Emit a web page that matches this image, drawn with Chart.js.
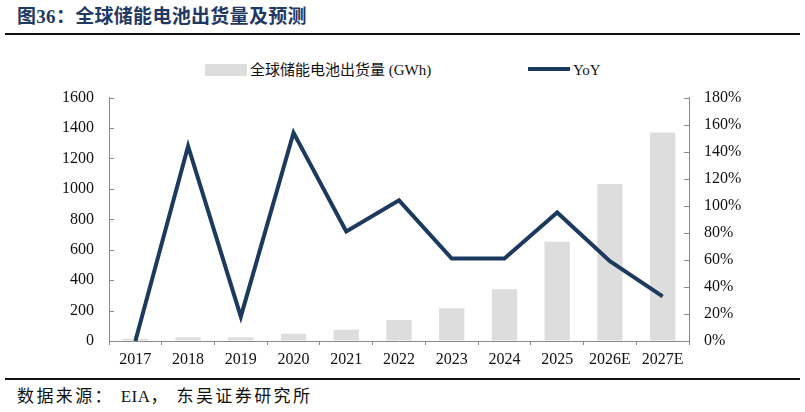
<!DOCTYPE html>
<html>
<head>
<meta charset="utf-8">
<script src="https://cdn.jsdelivr.net/npm/chart.js@4"></script>
<style>
  body { margin: 0; background: #fff; }
  #wrap { position: relative; width: 805px; height: 412px; overflow: hidden; font-family: "Liberation Serif", "Noto Sans CJK SC", serif; }
  #titulo { position: absolute; left: 17px; top: 1px; font-size: 19px; letter-spacing: 0.3px; font-weight: bold; color: #1f3864; white-space: nowrap; }
  .regla { position: absolute; left: 5px; width: 795px; height: 2px; background: #111; }
  #fuente { position: absolute; left: 17px; top: 382px; font-size: 17px; letter-spacing: 2.4px; color: #111; white-space: nowrap; }
  #fuente span { letter-spacing: 0.5px; }
  .ley { position: absolute; top: 60px; font-size: 15px; color: #111; white-space: nowrap; line-height: 20px; }
  #mycanvas { position: absolute; left: 0; top: 73px; }
</style>
</head>
<body>
<div id="wrap">
  <div id="titulo">图36：全球储能电池出货量及预测</div>
  <div class="regla" style="top:33px"></div>
  <div class="ley" style="left:205px"><span style="display:inline-block;width:42px;height:12px;background:#dddddd;vertical-align:-1px;margin-right:3px"></span>全球储能电池出货量 (GWh)</div>
  <div class="ley" style="left:528px"><span style="display:inline-block;width:42px;height:4px;background:#1c3a5e;vertical-align:4px;margin-right:3px"></span>YoY</div>
  <canvas id="mycanvas" width="805" height="305"></canvas>
  <div class="regla" style="top:378px"></div>
  <div id="fuente">数据来源： <span>EIA</span>， 东吴证券研究所</div>
</div>
<script>
// datos
const categorias = ['2017', '2018', '2019', '2020', '2021', '2022', '2023', '2024', '2025', '2026E', '2027E'];
const envios = [15, 24, 25, 47, 74, 138, 215, 340, 653, 1032, 1370];   // GWh
const yoy = [0, 144, 18, 154, 81, 104, 61, 61, 95, 59, 33];             // %
const ticksIzq = [0, 200, 400, 600, 800, 1000, 1200, 1400, 1600];
const ticksDer = [0, 20, 40, 60, 80, 100, 120, 140, 160, 180];

const gris_eje = '#8a8a8a';
const fuenteTick = { family: 'Liberation Serif', size: 16 };

// marcas hacia adentro en los dos ejes y
const marcasInternas = {
  id: 'marcasInternas',
  afterDraw(chart) {
    const ctx = chart.ctx;
    ctx.save();
    ctx.strokeStyle = gris_eje;
    ctx.lineWidth = 1;
    ['y', 'y1'].forEach(function (id) {
      const s = chart.scales[id];
      s.ticks.forEach(function (t) {
        const py = Math.round(s.getPixelForValue(t.value)) + 0.5;
        ctx.beginPath();
        if (id === 'y') { ctx.moveTo(s.right, py); ctx.lineTo(s.right + 5, py); }
        else { ctx.moveTo(s.left - 5, py); ctx.lineTo(s.left, py); }
        ctx.stroke();
      });
    });
    ctx.restore();
  }
};

const data = {
  labels: categorias,
  datasets: [
    {
      type: 'line',
      label: 'YoY',
      data: yoy,
      yAxisID: 'y1',
      borderColor: '#1c3a5e',
      borderWidth: 4,
      pointRadius: 0,
      tension: 0,
      borderJoinStyle: 'miter',
      clip: false,
      order: 0
    },
    {
      type: 'bar',
      label: '全球储能电池出货量 (GWh)',
      data: envios,
      yAxisID: 'y',
      backgroundColor: '#dddddd',
      barPercentage: 0.48,
      categoryPercentage: 1,
      order: 1
    }
  ]
};

const config = {
  data: data,
  plugins: [marcasInternas],
  options: {
    responsive: false,
    animation: false,
    layout: { autoPadding: false, padding: { top: 10, left: 0, right: 0, bottom: 0 } },
    plugins: {
      legend: { display: false },
      tooltip: { enabled: false }
    },
    scales: {
      x: {
        offset: true,
        grid: { offset: true, drawOnChartArea: false, tickLength: 4, color: gris_eje },
        border: { color: gris_eje },
        ticks: { font: fuenteTick, color: '#111', padding: 5, maxRotation: 0 },
        afterFit: function (s) { s.height = 37; }
      },
      y: {
        position: 'left',
        min: 0,
        max: 1600,
        afterBuildTicks: function (s) { s.ticks = ticksIzq.map(v => ({ value: v })); },
        grid: { drawOnChartArea: false, drawTicks: false },
        border: { color: gris_eje },
        ticks: { font: fuenteTick, color: '#111', padding: 15, callback: v => String(v) },
        afterFit: function (s) { s.width = 109; }
      },
      y1: {
        position: 'right',
        min: 0,
        max: 180,
        afterBuildTicks: function (s) { s.ticks = ticksDer.map(v => ({ value: v })); },
        grid: { drawOnChartArea: false, drawTicks: false },
        border: { color: gris_eje },
        ticks: { font: fuenteTick, color: '#111', padding: 15, callback: v => v + '%' },
        afterFit: function (s) { s.width = 116; }
      }
    }
  }
};

var myChart = new Chart(document.getElementById('mycanvas'), config);
</script>
</body>
</html>
